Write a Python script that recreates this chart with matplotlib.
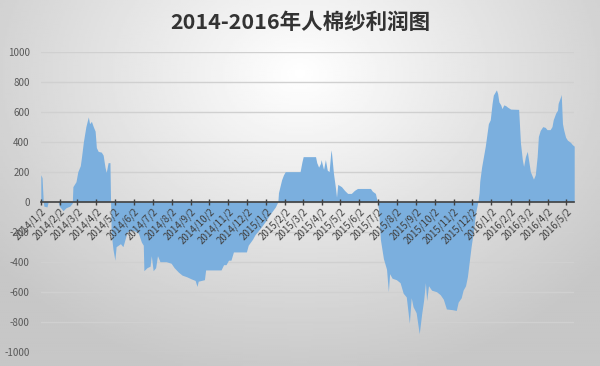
import matplotlib.pyplot as plt
import numpy as np
import pandas as pd

plt.rcParams['font.family'] = ['Noto Sans CJK SC', 'DejaVu Sans']
plt.rcParams['axes.unicode_minus'] = False

# profit readings (date, value) taken off the chart
dates = [
    "2014-01-02", "2014-01-04", "2014-01-06", "2014-01-07", "2014-01-12", "2014-01-14",
    "2014-01-30", "2014-02-01", "2014-02-07", "2014-02-12", "2014-02-18", "2014-02-22",
    "2014-02-23", "2014-02-28", "2014-03-03", "2014-03-07", "2014-03-09", "2014-03-12",
    "2014-03-14", "2014-03-16", "2014-03-20", "2014-03-22", "2014-03-25", "2014-03-28",
    "2014-03-31", "2014-04-02", "2014-04-05", "2014-04-10", "2014-04-13", "2014-04-16",
    "2014-04-18", "2014-04-21", "2014-04-24", "2014-04-25", "2014-04-26", "2014-04-29",
    "2014-05-02", "2014-05-04", "2014-05-11", "2014-05-15", "2014-05-22", "2014-06-01",
    "2014-06-09", "2014-06-14", "2014-06-17", "2014-06-18", "2014-06-23", "2014-06-28",
    "2014-06-30", "2014-07-03", "2014-07-07", "2014-07-10", "2014-07-14", "2014-07-24",
    "2014-08-01", "2014-08-06", "2014-08-13", "2014-08-19", "2014-08-26", "2014-09-03",
    "2014-09-09", "2014-09-12", "2014-09-14", "2014-09-24", "2014-09-26", "2014-10-21",
    "2014-10-25", "2014-10-29", "2014-11-02", "2014-11-06", "2014-11-10", "2014-12-01",
    "2014-12-04", "2014-12-11", "2014-12-15", "2014-12-24", "2015-01-01", "2015-01-09",
    "2015-01-17", "2015-01-21", "2015-01-22", "2015-01-27", "2015-01-30", "2015-02-02",
    "2015-02-26", "2015-03-01", "2015-03-03", "2015-03-23", "2015-03-25", "2015-03-28",
    "2015-03-31", "2015-04-01", "2015-04-05", "2015-04-08", "2015-04-11", "2015-04-14",
    "2015-04-17", "2015-04-18", "2015-04-21", "2015-04-24", "2015-04-26", "2015-04-28",
    "2015-05-04", "2015-05-09", "2015-05-14", "2015-05-20", "2015-05-25", "2015-05-30",
    "2015-06-20", "2015-06-23", "2015-06-28", "2015-07-01", "2015-07-03", "2015-07-06",
    "2015-07-11", "2015-07-16", "2015-07-19", "2015-07-21", "2015-07-25", "2015-08-01",
    "2015-08-07", "2015-08-12", "2015-08-17", "2015-08-22", "2015-08-25", "2015-08-28",
    "2015-09-02", "2015-09-07", "2015-09-11", "2015-09-14", "2015-09-17", "2015-09-19",
    "2015-09-22", "2015-09-27", "2015-10-05", "2015-10-11", "2015-10-16", "2015-10-21",
    "2015-10-31", "2015-11-06", "2015-11-09", "2015-11-14", "2015-11-17", "2015-11-21",
    "2015-11-24", "2015-11-27", "2015-11-30", "2015-12-04", "2015-12-07", "2015-12-11",
    "2015-12-13", "2015-12-14", "2015-12-17", "2015-12-20", "2015-12-23", "2015-12-28",
    "2015-12-31", "2016-01-03", "2016-01-05", "2016-01-10", "2016-01-12", "2016-01-14",
    "2016-01-17", "2016-01-19", "2016-01-22", "2016-01-25", "2016-01-28", "2016-02-02",
    "2016-02-15", "2016-02-18", "2016-02-21", "2016-02-23", "2016-02-26", "2016-02-29",
    "2016-03-02", "2016-03-05", "2016-03-10", "2016-03-13", "2016-03-16", "2016-03-18",
    "2016-03-21", "2016-03-25", "2016-03-29", "2016-04-01", "2016-04-06", "2016-04-09",
    "2016-04-11", "2016-04-15", "2016-04-18", "2016-04-19", "2016-04-23", "2016-04-24",
    "2016-04-26", "2016-04-28", "2016-05-01", "2016-05-04", "2016-05-09", "2016-05-12",
    "2016-05-15",
]
profit = [
    180, 160, 0, -30, -35, 0,
    0, -30, -60, -40, -30, -10,
    100, 133, 200, 240, 300, 400,
    450, 500, 565, 520, 535, 500,
    470, 360, 335, 330, 310, 230,
    195, 260, 260, 0, -210, -320,
    -390, -300, -280, -300, -200, -190,
    -210, -270, -290, -460, -440, -430,
    -360, -460, -440, -360, -400, -400,
    -410, -440, -470, -490, -500, -515,
    -525, -565, -530, -520, -455, -455,
    -420, -420, -390, -390, -335, -335,
    -290, -250, -220, -175, -130, -80,
    -35, 0, 60, 145, 178, 200,
    200, 265, 300, 300, 260, 230,
    255, 280, 215, 280, 210, 200,
    345, 320, 190, 100, 30, 115,
    100, 75, 55, 55, 75, 88,
    88, 70, 55, 0, -50, -250,
    -380, -450, -600, -480, -510, -520,
    -540, -610, -635, -810, -640, -700,
    -740, -880, -745, -660, -540, -660,
    -560, -590, -600, -620, -650, -715,
    -720, -725, -670, -640, -590, -560,
    -500, -400, -300, -190, -80, 0,
    60, 135, 230, 300, 370, 520,
    545, 655, 710, 745, 720, 665,
    645, 620, 645, 640, 630, 617,
    615, 390, 280, 235, 300, 335,
    280, 200, 150, 180, 300, 435,
    475, 500, 495, 480, 480, 500,
    545, 590, 610, 655, 700, 715,
    520, 478, 430, 410, 395, 380,
    370,
]

x = pd.to_datetime(dates)
y = np.array(profit)

month_ticks = pd.date_range("2014-01-01", "2016-05-01", freq="MS") + pd.Timedelta(days=1)
month_labels = [f"{d.year}/{d.month}/{d.day}" for d in month_ticks]
y_ticks = np.arange(-1000, 1001, 200)

fig = plt.figure(figsize=(6, 3.66), dpi=100)

# soft radial grey background like the spreadsheet chart
bg = fig.add_axes([0, 0, 1, 1], zorder=-10)
gx, gy = np.meshgrid(np.linspace(-1, 1, 300), np.linspace(-1, 1, 200))
r = np.sqrt(gx ** 2 + ((gy + 0.6) / 1.3) ** 2)
bg.imshow(1 - 0.22 * np.clip(r, 0, 1.3) / 1.3, cmap="gray", vmin=0, vmax=1,
          aspect="auto", extent=[0, 1, 0, 1])
bg.axis("off")

ax = fig.add_axes([0.068, 0.039, 0.889, 0.82])
ax.patch.set_alpha(0)

# gridlines sit behind the area, labels go on top of it
for v in y_ticks:
    ax.axhline(v, color="#d0d0d0", lw=1, zorder=0)
ax.fill_between(x, y, 0, color="#7BAFDE", lw=0, zorder=1)

ax.set_ylim(-1000, 1000)
ax.set_yticks(y_ticks)
ax.set_xlim(pd.Timestamp("2014-01-02"), pd.Timestamp("2016-05-15"))

for s in ["top", "right", "left"]:
    ax.spines[s].set_visible(False)
ax.spines["bottom"].set_position(("data", 0))
ax.spines["bottom"].set_color("#404040")
ax.spines["bottom"].set_linewidth(1.2)
ax.tick_params(axis="x", direction="inout", length=5, width=1, color="#404040", pad=1)
ax.tick_params(axis="y", length=0, labelsize=7, labelcolor="#595959", pad=8)

ax.set_xticks(month_ticks)
ax.set_xticklabels(month_labels)
plt.setp(ax.get_xticklabels(), rotation=45, ha="right", va="top",
         rotation_mode="anchor", fontsize=7, color="#404040")

fig.suptitle("2014-2016年人棉纱利润图", fontsize=15.5, fontweight="bold",
             color="#333333", y=0.968)

fig.savefig("out.png", dpi=100)
